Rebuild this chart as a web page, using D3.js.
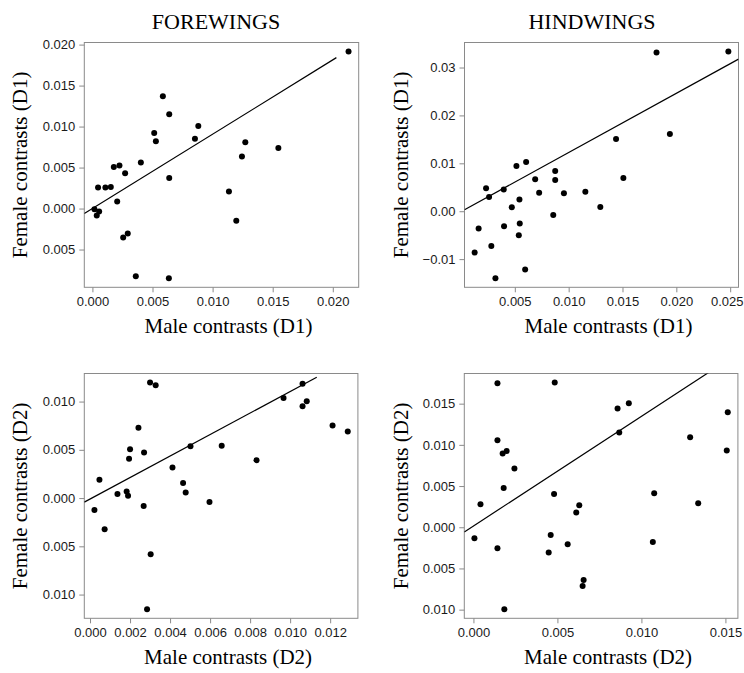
<!DOCTYPE html>
<html>
<head>
<meta charset="utf-8">
<script src="https://cdn.jsdelivr.net/npm/d3@7"></script>
<style>
  body { margin: 0; background: #fff; }
  svg { display: block; }
</style>
</head>
<body>
<div id="chart"></div>
<script>
// --- Data ---
// Forewings, D1
var fwD1Male = [0.02131, 0.00586, 0.00639, 0.00514, 0.00528, 0.00881, 0.00853, 0.00403, 0.00178, 0.00225,
                0.00272, 0.00047, 0.00108, 0.00153, 0.00206, 0.00639, 0.00017, 0.00056, 0.00036, 0.00256,
                0.00294, 0.00361, 0.00636, 0.01136, 0.01197, 0.01244, 0.01272, 0.01547];
var fwD1Female = [0.01915, 0.0137, 0.0115, 0.00923, 0.00821, 0.01008, 0.0085, 0.00561, 0.00508, 0.00524,
                  0.00431, 0.00256, 0.00256, 0.00264, 0.00085, 0.00374, -0.00008, -0.00037, -0.00085, -0.00354,
                  -0.00305, -0.00825, -0.0085, 0.00207, -0.0015, 0.00634, 0.00809, 0.0074];

// Hindwings, D1
var hwD1Male = [0.01816, 0.02483, 0.0194, 0.0144, 0.01508, 0.00605, 0.00515, 0.00233, 0.00261, 0.00397,
                0.00689, 0.00726, 0.00875, 0.00875, 0.00956, 0.01155, 0.01294, 0.00543, 0.00472, 0.00857,
                0.00546, 0.00537, 0.004, 0.00164, 0.00127, 0.00282, 0.0032, 0.00596];
var hwD1Female = [0.03312, 0.03333, 0.01614, 0.0151, 0.00696, 0.0103, 0.00946, 0.0048, 0.00299, 0.00452,
                  0.00668, 0.00383, 0.00842, 0.00654, 0.00376, 0.00404, 0.0009, 0.00244, 0.00084, -0.00077,
                  -0.00257, -0.00501, -0.00313, -0.00362, -0.00863, -0.00724, -0.01399, -0.01218];

// Forewings, D2
var fwD2Male = [0.003, 0.00328, 0.01062, 0.00967, 0.01062, 0.01083, 0.01212, 0.01288, 0.00242, 0.002,
                0.00195, 0.0027, 0.00502, 0.00658, 0.00832, 0.00412, 0.00047, 0.00465, 0.00478, 0.00137,
                0.00183, 0.0019, 0.00268, 0.00597, 0.00022, 0.00073, 0.00303, 0.00285];
var fwD2Female = [0.01197, 0.01169, 0.01186, 0.01038, 0.00952, 0.01003, 0.00752, 0.0069, 0.00728, 0.00507,
                  0.00407, 0.00472, 0.00538, 0.00541, 0.00393, 0.00317, 0.0019, 0.00155, 0.00059, 0.00041,
                  0.00069, 0.00024, -0.00083, -0.00041, -0.00124, -0.00324, -0.00583, -0.01152];

// Hindwings, D2
var hwD2Male = [0.00143, 0.00484, 0.00858, 0.00925, 0.01514, 0.00868, 0.0129, 0.01508, 0.00143, 0.00174,
                0.00198, 0.00244, 0.0018, 0.00042, 0.0048, 0.0063, 0.00612, 0.01076, 0.01338, 0.00006,
                0.00143, 0.0046, 0.00448, 0.00561, 0.01068, 0.00656, 0.0065, 0.00184];
var hwD2Female = [0.01748, 0.01756, 0.0144, 0.01505, 0.01396, 0.01149, 0.01092, 0.0093, 0.01056, 0.00894,
                  0.00926, 0.00712, 0.00477, 0.00279, 0.00405, 0.00267, 0.00178, 0.00413, 0.00291, -0.00133,
                  -0.00255, -0.00093, -0.00307, -0.00206, -0.00178, -0.00639, -0.00712, -0.00995];

// Fitted lines (slope, intercept, end of drawn segment on x; null = to the frame edge)
var fitSlope = [0.907, 1.236, 1.114, 1.331];
var fitIntercept = [0.0, -0.0001, -0.0001, 0.00015];
var fitXEnd = [0.0203, null, 0.01133, null];

// Ticks and tick labels
var fwD1XTicks = [0, 0.005, 0.010, 0.015, 0.020];
var fwD1XLabels = ["0.000", "0.005", "0.010", "0.015", "0.020"];
var fwD1YTicks = [0.020, 0.015, 0.010, 0.005, 0.000, -0.005];
var fwD1YLabels = ["0.020", "0.015", "0.010", "0.005", "0.000", "0.005"];

var hwD1XTicks = [0.005, 0.010, 0.015, 0.020, 0.025];
var hwD1XLabels = ["0.005", "0.010", "0.015", "0.020", "0.025"];
var hwD1YTicks = [0.03, 0.02, 0.01, 0.00, -0.01];
var hwD1YLabels = ["0.03", "0.02", "0.01", "0.00", "\u22120.01"];

var fwD2XTicks = [0, 0.002, 0.004, 0.006, 0.008, 0.010, 0.012];
var fwD2XLabels = ["0.000", "0.002", "0.004", "0.006", "0.008", "0.010", "0.012"];
var fwD2YTicks = [0.010, 0.005, 0.000, -0.005, -0.010];
var fwD2YLabels = ["0.010", "0.005", "0.000", "0.005", "0.010"];

var hwD2XTicks = [0, 0.005, 0.010, 0.015];
var hwD2XLabels = ["0.000", "0.005", "0.010", "0.015"];
var hwD2YTicks = [0.015, 0.010, 0.005, 0.000, -0.005, -0.010];
var hwD2YLabels = ["0.015", "0.010", "0.005", "0.000", "0.005", "0.010"];

var columnTitles = ["FOREWINGS", "HINDWINGS"];

// --- Layout ---
var W = 744, H = 673;
var serif = "'Liberation Serif', 'Times New Roman', serif";
var sans = "'Liberation Sans', Arial, sans-serif";

var svg = d3.select("#chart").append("svg")
    .attr("width", W)
    .attr("height", H)
    .style("background", "#fff");

var panels = [
    { x: fwD1Male, y: fwD1Female, xt: fwD1XTicks, xl: fwD1XLabels, yt: fwD1YTicks, yl: fwD1YLabels,
      left: 84.3, top: 42.5, w: 274.4, h: 244.8, xlab: "Male contrasts (D1)", ylab: "Female contrasts (D1)", ylabX: 27 },
    { x: hwD1Male, y: hwD1Female, xt: hwD1XTicks, xl: hwD1XLabels, yt: hwD1YTicks, yl: hwD1YLabels,
      left: 464.5, top: 42.5, w: 274, h: 244.8, xlab: "Male contrasts (D1)", ylab: "Female contrasts (D1)", ylabX: 408 },
    { x: fwD2Male, y: fwD2Female, xt: fwD2XTicks, xl: fwD2XLabels, yt: fwD2YTicks, yl: fwD2YLabels,
      left: 84.3, top: 373.5, w: 273.6, h: 244.8, xlab: "Male contrasts (D2)", ylab: "Female contrasts (D2)", ylabX: 27 },
    { x: hwD2Male, y: hwD2Female, xt: hwD2XTicks, xl: hwD2XLabels, yt: hwD2YTicks, yl: hwD2YLabels,
      left: 464.3, top: 373.5, w: 273.6, h: 244.8, xlab: "Male contrasts (D2)", ylab: "Female contrasts (D2)", ylabX: 408 }
];

// R-style axis range: data extent padded by 4% on each side
function padded(values) {
    var ext = d3.extent(values);
    var pad = (ext[1] - ext[0]) * 0.04;
    return [ext[0] - pad, ext[1] + pad];
}

panels.forEach(function (p, i) {
    var xScale = d3.scaleLinear().domain(padded(p.x)).range([0, p.w]);
    var yScale = d3.scaleLinear().domain(padded(p.y)).range([p.h, 0]);

    var g = svg.append("g")
        .attr("transform", "translate(" + p.left + "," + p.top + ")");

    // clip for the fitted line
    g.append("clipPath")
        .attr("id", "clip" + i)
        .append("rect")
        .attr("width", p.w)
        .attr("height", p.h);

    // frame
    g.append("rect")
        .attr("width", p.w)
        .attr("height", p.h)
        .attr("fill", "none")
        .attr("stroke", "#8a8a8a")
        .attr("stroke-width", 1);

    // x axis
    var xAxis = g.append("g")
        .attr("transform", "translate(0," + p.h + ")")
        .call(d3.axisBottom(xScale)
            .tickValues(p.xt)
            .tickSize(5)
            .tickPadding(4)
            .tickFormat(function (d, k) { return p.xl[k]; }));
    xAxis.select(".domain").remove();

    // y axis
    var yAxis = g.append("g")
        .call(d3.axisLeft(yScale)
            .tickValues(p.yt)
            .tickSize(5)
            .tickPadding(4)
            .tickFormat(function (d, k) { return p.yl[k]; }));
    yAxis.select(".domain").remove();

    g.selectAll(".tick line").attr("stroke", "#8a8a8a");
    g.selectAll(".tick text")
        .style("font-family", sans)
        .style("font-size", "13px")
        .attr("fill", "#1a1a1a");

    // keep a label that would run past the page edge inside it
    xAxis.selectAll(".tick text").each(function (d) {
        var box = this.getBBox();
        var tickX = p.left + xScale(d);
        var over = tickX + box.width / 2 - (W - 1);
        if (over > 0) d3.select(this).attr("dx", -over);
    });

    // fitted line
    var x0 = xScale.domain()[0];
    var x1 = fitXEnd[i] === null ? xScale.domain()[1] : fitXEnd[i];
    var fit = [x0, x1].map(function (v) { return [v, fitIntercept[i] + fitSlope[i] * v]; });
    g.append("path")
        .datum(fit)
        .attr("clip-path", "url(#clip" + i + ")")
        .attr("fill", "none")
        .attr("stroke", "#000")
        .attr("stroke-width", 1.2)
        .attr("d", d3.line()
            .x(function (d) { return xScale(d[0]); })
            .y(function (d) { return yScale(d[1]); }));

    // points
    g.append("g")
        .selectAll("circle")
        .data(p.x.map(function (v, k) { return [v, p.y[k]]; }))
        .enter().append("circle")
        .attr("cx", function (d) { return xScale(d[0]); })
        .attr("cy", function (d) { return yScale(d[1]); })
        .attr("r", 3)
        .attr("fill", "#000");

    // axis titles
    svg.append("text")
        .attr("x", p.left + p.w / 2 + 7)
        .attr("y", p.top + p.h + 46)
        .attr("text-anchor", "middle")
        .style("font-family", serif)
        .style("font-size", "21px")
        .attr("fill", "#000")
        .text(p.xlab);

    svg.append("text")
        .attr("transform", "translate(" + p.ylabX + "," + (p.top + p.h / 2) + ") rotate(-90)")
        .attr("text-anchor", "middle")
        .style("font-family", serif)
        .style("font-size", "21px")
        .attr("fill", "#000")
        .text(p.ylab);
});

// column titles
svg.selectAll(".col-title")
    .data(columnTitles)
    .enter().append("text")
    .attr("class", "col-title")
    .attr("x", function (d, i) { return i === 0 ? 216 : 592; })
    .attr("y", 28.5)
    .attr("text-anchor", "middle")
    .style("font-family", serif)
    .style("font-size", "22px")
    .attr("fill", "#000")
    .text(function (d) { return d; });
</script>
</body>
</html>
